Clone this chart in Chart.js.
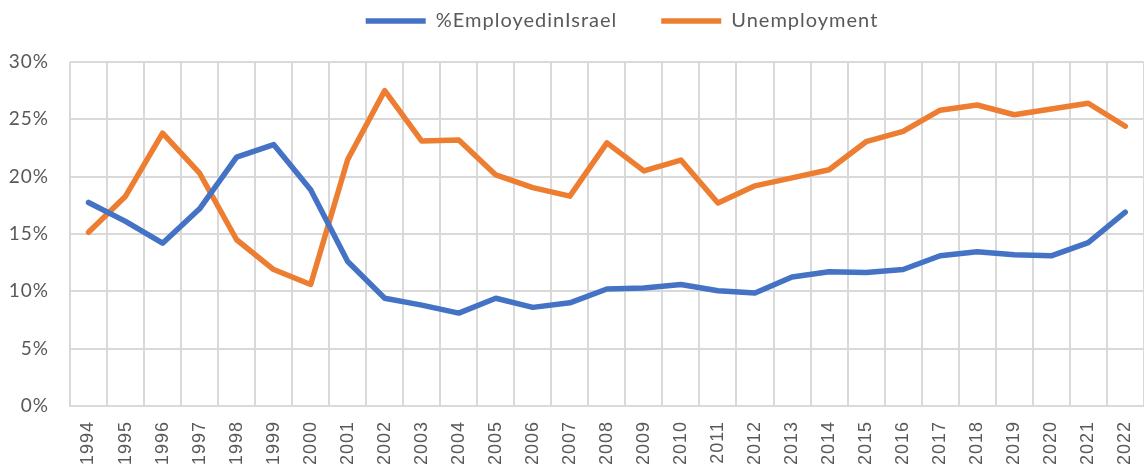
<!DOCTYPE html>
<html>
<head>
<meta charset="utf-8">
<script src="https://cdn.jsdelivr.net/npm/chart.js@4.4.1/dist/chart.umd.min.js"></script>
<style>
  html, body { margin: 0; padding: 0; background: #fff; overflow: hidden; }
  #wrap { width: 1162px; height: 469px; position: relative; }
</style>
</head>
<body>
<div id="wrap"><canvas id="chart"></canvas></div>
<script>
// Data
const years = ["1994","1995","1996","1997","1998","1999","2000","2001","2002","2003",
  "2004","2005","2006","2007","2008","2009","2010","2011","2012","2013","2014","2015",
  "2016","2017","2018","2019","2020","2021","2022"];

const employedInIsrael = [17.75, 16.1, 14.2, 17.2, 21.7, 22.8, 18.85, 12.6, 9.4, 8.8,
  8.1, 9.4, 8.6, 9.0, 10.2, 10.3, 10.6, 10.05, 9.85, 11.25, 11.7, 11.65, 11.9, 13.1,
  13.45, 13.2, 13.1, 14.25, 16.9];

const unemployment = [15.15, 18.3, 23.8, 20.3, 14.5, 11.9, 10.6, 21.5, 27.5, 23.1,
  23.2, 20.15, 19.05, 18.3, 22.95, 20.5, 21.45, 17.7, 19.2, 19.9, 20.6, 23.05, 23.95,
  25.8, 26.25, 25.4, 25.9, 26.4, 24.4];

const yTicks = [0, 5, 10, 15, 20, 25, 30];

Chart.defaults.font.family = "Lato, 'Liberation Sans', sans-serif";
Chart.defaults.color = "#595959";

// text in the original is a bit spaced out
const spacing = {
  id: "spacing",
  beforeUpdate(chart) { chart.ctx.letterSpacing = "1px"; },
  beforeDraw(chart) { chart.ctx.letterSpacing = "1px"; }
};

// move the legend to where the original has it (bottom stays, it is the clip edge)
const legendShift = {
  id: "legendShift",
  afterLayout(chart) {
    const lg = chart.legend;
    lg.left += 45;
    lg.right += 45;
    lg.top -= 33;
  }
};

new Chart(document.getElementById("chart"), {
  type: "line",
  data: {
    labels: years,
    datasets: [
      {
        label: "%EmployedinIsrael",
        data: employedInIsrael,
        borderColor: "#4472c4",
        backgroundColor: "#4472c4",
        borderWidth: 5.5,
        borderCapStyle: "round",
        borderJoinStyle: "round",
        pointRadius: 0,
        pointStyle: "line",
        tension: 0
      },
      {
        label: "Unemployment",
        data: unemployment,
        borderColor: "#ed7d31",
        backgroundColor: "#ed7d31",
        borderWidth: 5.5,
        borderCapStyle: "round",
        borderJoinStyle: "round",
        pointRadius: 0,
        pointStyle: "line",
        tension: 0
      }
    ]
  },
  plugins: [spacing, legendShift],
  options: {
    responsive: true,
    maintainAspectRatio: false,
    animation: false,
    layout: { padding: { top: 0, right: 8, left: 0, bottom: 0 } },
    plugins: {
      legend: {
        position: "top",
        maxHeight: 62,
        labels: {
          usePointStyle: true,
          pointStyleWidth: 60,
          boxHeight: 6,
          padding: 44,
          color: "#595959",
          font: { size: 20 }
        }
      },
      tooltip: { enabled: false }
    },
    scales: {
      x: {
        offset: true,
        grid: { offset: true, color: "#d9d9d9", lineWidth: 2, drawTicks: false },
        border: { color: "#d9d9d9", width: 2 },
        ticks: {
          minRotation: 90,
          maxRotation: 90,
          autoSkip: false,
          padding: 15,
          color: "#595959",
          font: { family: "'Liberation Sans', Arial, sans-serif", size: 18 }
        },
        afterFit: axis => { axis.height = 63; }
      },
      y: {
        min: 0,
        max: 30,
        afterBuildTicks: axis => { axis.ticks = yTicks.map(v => ({ value: v })); },
        grid: { color: "#d9d9d9", lineWidth: 2, drawTicks: false },
        border: { display: false },
        ticks: {
          padding: 21,
          color: "#595959",
          font: { size: 19 },
          callback: v => v + "%"
        },
        afterFit: axis => { axis.width = 70; }
      }
    }
  }
});
</script>
</body>
</html>
